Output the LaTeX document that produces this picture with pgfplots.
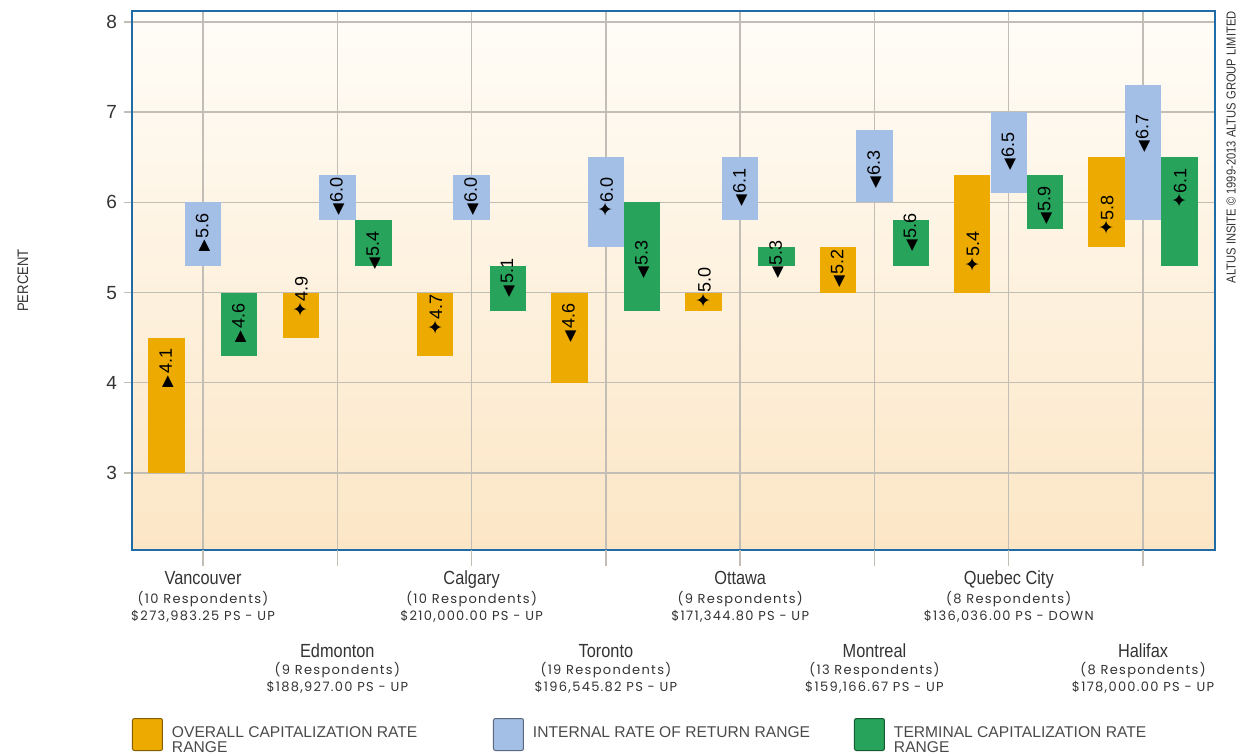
\documentclass[border=0pt]{standalone}
\usepackage{fontspec}
\setmainfont{Liberation Sans}
\newfontfamily\condfont[FakeStretch=0.86]{Liberation Sans}
\newfontfamily\poppins[LetterSpace=10]{Poppins}
\newfontfamily\symfont{DejaVu Sans}
\usepackage{pgfplots}
\usepackage{pgfplotstable}
\pgfplotsset{compat=1.18}
\pgfkeys{/pgf/number format/assume math mode=true}

\definecolor{corange}{HTML}{EDAA00}
\definecolor{cblue}{HTML}{A4BFE6}
\definecolor{cgreen}{HTML}{27A35B}
\definecolor{cframe}{HTML}{1F6CA6}
\definecolor{cbgtop}{HTML}{FFFDF8}
\definecolor{cbgbot}{HTML}{FCE6C6}
\definecolor{cgrid}{HTML}{C2BEB6}
\definecolor{ctext}{HTML}{333333}
\definecolor{clegtext}{HTML}{4A4A4A}

% i = city index, lo/hi = range, v = labelled value, dir = change (1 up, -1 down, 0 unchanged)
\pgfplotstableread{
i lo  hi  v   dir
0 3.0 4.5 4.1 1
1 4.5 5.0 4.9 0
2 4.3 5.0 4.7 0
3 4.0 5.0 4.6 -1
4 4.8 5.0 5.0 0
5 5.0 5.5 5.2 -1
6 5.0 6.3 5.4 0
7 5.5 6.5 5.8 0
}\ovr
\pgfplotstableread{
i lo  hi  v   dir
0 5.3 6.0 5.6 1
1 5.8 6.3 6.0 -1
2 5.8 6.3 6.0 -1
3 5.5 6.5 6.0 0
4 5.8 6.5 6.1 -1
5 6.0 6.8 6.3 -1
6 6.1 7.0 6.5 -1
7 5.8 7.3 6.7 -1
}\irr
\pgfplotstableread{
i lo  hi  v   dir
0 4.3 5.0 4.6 1
1 5.3 5.8 5.4 -1
2 4.8 5.3 5.1 -1
3 4.8 6.0 5.3 -1
4 5.3 5.5 5.3 -1
5 5.3 5.8 5.6 -1
6 5.7 6.3 5.9 -1
7 5.3 6.5 6.1 0
}\tcr

% marker glyph, rotated with the label: right-pointing -> up, left-pointing -> down
\newcommand{\mkglyph}[1]{%
  \ifdim #1pt>0.5pt {\fontsize{7.6}{7.6}\selectfont ▶}%
  \else\ifdim #1pt<-0.5pt {\fontsize{7.6}{7.6}\selectfont ◀}%
  \else {\fontsize{9.5}{9.5}\selectfont ✦}\fi\fi}

\newcommand{\cityf}{\condfont\fontsize{9.5}{9.3}\selectfont}
\newcommand{\respf}{\poppins\fontsize{6.5}{9.3}\selectfont}
\newcommand{\ctop}[3]{{\cityf #1}\\[0.2pt]{\respf #2}\\[-0.8pt]{\respf #3}}
\newcommand{\cbot}[3]{{\cityf\rule{0pt}{43pt}#1}\\[-0.4pt]{\respf #2}\\[-0.8pt]{\respf #3}}

\pgfplotsset{
  rangebar/.style={forget plot, mark=none, draw=none,
    error bars/.cd, y dir=both, y explicit, error mark=none,
    error bar style={line width=18.2pt, draw=#1, solid}},
  chg/.style={forget plot, mark=none, draw=none,
    visualization depends on={\thisrow{v}\as\vv},
    visualization depends on={\thisrow{dir}\as\chgdir},
    nodes near coords={\makebox[6pt][c]{\symfont\mkglyph{\chgdir}}\kern0.8pt\pgfmathprintnumber[fixed,fixed zerofill,precision=1]{\vv}},
    every node near coord/.append style={anchor=west, yshift=-7.5pt, rotate=90, inner sep=0.5pt,
      font=\fontsize{9}{9}\selectfont, text=black}},
}

\begin{document}
\begin{tikzpicture}
\useasboundingbox (-66pt,-102pt) rectangle (552.5pt,275pt);
\begin{axis}[
  scale only axis, width=541.5pt, height=269.5pt,
  xmin=-0.529, xmax=7.536, ymin=2.146, ymax=8.122,
  axis background/.style={top color=cbgtop, bottom color=cbgbot},
  axis line style={draw=cframe, line width=1.3pt},
  grid=major, major grid style={draw=cgrid, line width=0.7pt},
  tick align=outside, tick pos=left, major tick length=4pt,
  tick style={draw=cgrid, line width=0.7pt},
  ytick={3,4,5,6,7,8},
  yticklabel style={font=\fontsize{9.5}{9.5}\selectfont, text=ctext},
  xtick={0,1,2,3,4,5,6,7},
  xticklabels={
    {\ctop{Vancouver}{(10 Respondents)}{\$273,983.25 PS - UP}},
    {\cbot{Edmonton}{(9 Respondents)}{\$188,927.00 PS - UP}},
    {\ctop{Calgary}{(10 Respondents)}{\$210,000.00 PS - UP}},
    {\cbot{Toronto}{(19 Respondents)}{\$196,545.82 PS - UP}},
    {\ctop{Ottawa}{(9 Respondents)}{\$171,344.80 PS - UP}},
    {\cbot{Montreal}{(13 Respondents)}{\$159,166.67 PS - UP}},
    {\ctop{Quebec City}{(8 Respondents)}{\$136,036.00 PS - DOWN}},
    {\cbot{Halifax}{(8 Respondents)}{\$178,000.00 PS - UP}}},
  xticklabel style={anchor=north, align=center, text=ctext, font=\fontsize{7}{9.3}\selectfont, yshift=-3pt},
  extra x ticks={0,1,2,3,4,5,6,7}, extra x tick labels={},
  extra x tick style={major tick length=8pt, grid=none},
  ylabel={PERCENT},
  ylabel style={at={([xshift=-54.5pt]axis description cs:0,0.5)}, anchor=center,
    font=\condfont\fontsize{7.6}{8}\selectfont, text=ctext},
  legend columns=3,
  legend style={at={(axis description cs:0,0)}, anchor=north west, yshift=-84pt,
    draw=none, fill=none, inner sep=0pt, outer sep=0pt,
    font=\fontsize{7.8}{7.5}\selectfont, text=clegtext,
    cells={anchor=base west, inner sep=0pt},
    /tikz/every odd column/.append style={column sep=2.5pt},
    /tikz/every even column/.append style={column sep=8.5pt}},
  extra description/.code={
    \node[rotate=90, anchor=east, inner sep=0pt, text=ctext,
      font=\condfont\fontsize{6.5}{6.5}\selectfont]
      at ([xshift=8pt]axis description cs:1,1)
      {ALTUS INSITE \textcopyright{} 1999-2013 ALTUS GROUP LIMITED};
  },
]
% range bars
\addplot[rangebar=corange] table[x expr=\thisrow{i}-0.272, y expr=(\thisrow{lo}+\thisrow{hi})/2, y error expr=(\thisrow{hi}-\thisrow{lo})/2] {\ovr};
\addplot[rangebar=cblue] table[x expr=\thisrow{i}, y expr=(\thisrow{lo}+\thisrow{hi})/2, y error expr=(\thisrow{hi}-\thisrow{lo})/2] {\irr};
\addplot[rangebar=cgreen] table[x expr=\thisrow{i}+0.27, y expr=(\thisrow{lo}+\thisrow{hi})/2, y error expr=(\thisrow{hi}-\thisrow{lo})/2] {\tcr};
% change markers and value labels
\addplot[chg] table[x expr=\thisrow{i}-0.272, y=v] {\ovr};
\addplot[chg] table[x expr=\thisrow{i}, y=v] {\irr};
\addplot[chg] table[x expr=\thisrow{i}+0.27, y=v] {\tcr};
% legend
\addlegendimage{legend image code/.code={\draw[fill=corange, draw=corange!55!black, rounded corners=1pt, line width=0.5pt] (0pt,-6.5pt) rectangle (15pt,9.5pt);}}
\addlegendentry{\parbox[t]{150pt}{OVERALL CAPITALIZATION RATE\\RANGE}}
\addlegendimage{legend image code/.code={\draw[fill=cblue, draw=cblue!55!black, rounded corners=1pt, line width=0.5pt] (0pt,-6.5pt) rectangle (15pt,9.5pt);}}
\addlegendentry{\parbox[t]{150pt}{INTERNAL RATE OF RETURN RANGE}}
\addlegendimage{legend image code/.code={\draw[fill=cgreen, draw=cgreen!55!black, rounded corners=1pt, line width=0.5pt] (0pt,-6.5pt) rectangle (15pt,9.5pt);}}
\addlegendentry{\parbox[t]{150pt}{TERMINAL CAPITALIZATION RATE\\RANGE}}
\end{axis}
\end{tikzpicture}
\end{document}
